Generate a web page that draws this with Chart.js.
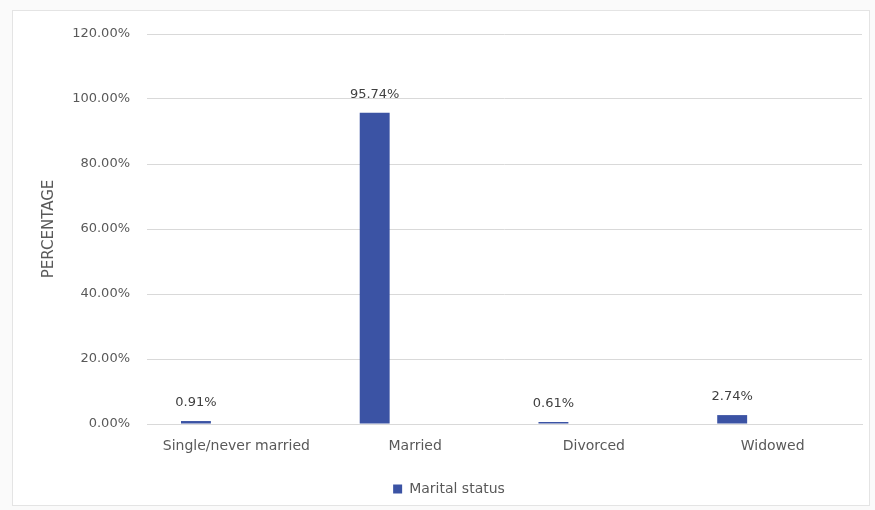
<!DOCTYPE html>
<html>
<head>
<meta charset="utf-8">
<script src="https://cdn.jsdelivr.net/npm/chart.js@4/dist/chart.umd.min.js"></script>
<style>
  html, body { margin: 0; padding: 0; background: #fafafa; }
  #wrap { width: 875px; height: 510px; }
</style>
</head>
<body>
<div id="wrap"><canvas id="chart" width="875" height="510"></canvas></div>
<script>
// data
const categories = ['Single/never married', 'Married', 'Divorced', 'Widowed'];
const maritalValues = [0.91, 95.74, 0.61, 2.74];
const emptyValues = [null, null, null, null]; // second (empty) series, pushes bars left like the original
const yTicks = [0, 20, 40, 60, 80, 100, 120];

const textColor = '#595959';
const barColor = '#3b53a4';
const fontFam = '"DejaVu Sans", sans-serif';

// white frame with thin border
const framePlugin = {
  id: 'frame',
  beforeDraw(chart) {
    const ctx = chart.ctx;
    ctx.save();
    ctx.fillStyle = '#ffffff';
    ctx.fillRect(12, 10, 858, 496);
    ctx.strokeStyle = '#e4e4e4';
    ctx.lineWidth = 1;
    ctx.strokeRect(12.5, 10.5, 857, 495);
    ctx.restore();
  }
};

// value labels above the bars
const barLabels = {
  id: 'barLabels',
  afterDatasetsDraw(chart) {
    const ctx = chart.ctx;
    const meta = chart.getDatasetMeta(0);
    ctx.save();
    ctx.font = '13px ' + fontFam;
    ctx.fillStyle = '#404040';
    ctx.textAlign = 'center';
    ctx.textBaseline = 'bottom';
    meta.data.forEach((bar, i) => {
      ctx.fillText(maritalValues[i].toFixed(2) + '%', bar.x, bar.y - 12);
    });
    ctx.restore();
  }
};

new Chart(document.getElementById('chart').getContext('2d'), {
  type: 'bar',
  data: {
    labels: categories,
    datasets: [
      { label: 'Marital status', data: maritalValues, backgroundColor: barColor,
        categoryPercentage: 0.905, barPercentage: 0.37 },
      { label: '', data: emptyValues, backgroundColor: 'transparent',
        categoryPercentage: 0.905, barPercentage: 0.37 }
    ]
  },
  options: {
    responsive: false,
    animation: false,
    layout: { padding: { left: 36, right: 13, top: 34, bottom: 4 } },
    plugins: {
      tooltip: { enabled: false },
      legend: {
        position: 'bottom',
        labels: {
          filter: item => item.text !== '',
          boxWidth: 9, boxHeight: 9,
          color: textColor,
          font: { family: fontFam, size: 14 }
        }
      }
    },
    scales: {
      x: {
        grid: { display: false, drawTicks: false },
        border: { color: '#d9d9d9' },
        ticks: { color: textColor, font: { family: fontFam, size: 14 }, padding: 14 },
        afterFit(scale) { scale.height = 48; }
      },
      y: {
        min: 0, max: 120,
        afterBuildTicks(scale) { scale.ticks = yTicks.map(v => ({ value: v })); },
        grid: { color: '#d9d9d9', drawTicks: false },
        border: { display: false },
        ticks: {
          color: textColor, padding: 17,
          font: { family: fontFam, size: 13 },
          callback: v => v.toFixed(2) + '%'
        },
        title: { display: true, text: 'PERCENTAGE', color: textColor, font: { family: fontFam, size: 15 } },
        afterFit(scale) { scale.width = 111; }
      }
    }
  },
  plugins: [framePlugin, barLabels]
});
</script>
</body>
</html>
